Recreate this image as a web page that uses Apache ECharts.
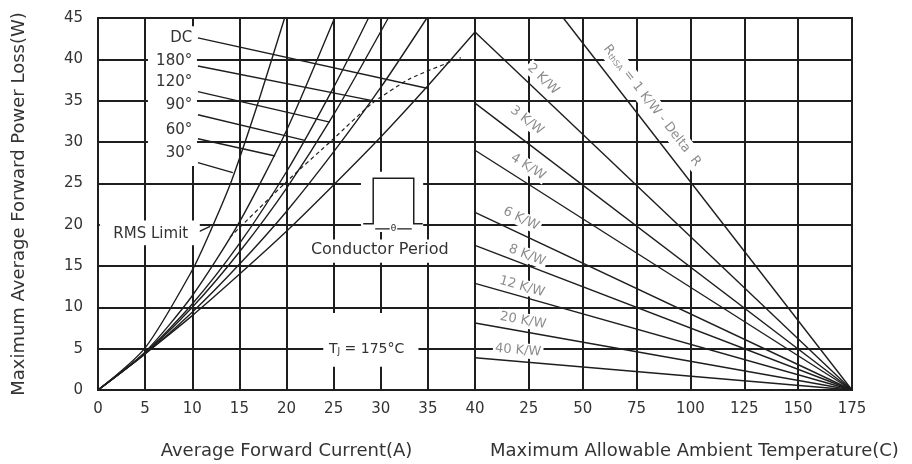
<!DOCTYPE html>
<html>
<head>
<meta charset="utf-8">
<script src="https://cdn.jsdelivr.net/npm/echarts@6/dist/echarts.min.js"></script>
<style>
  html, body { margin: 0; padding: 0; background: #fff; }
  #main { width: 912px; height: 464px; }
</style>
</head>
<body>
<div id="main"></div>
<script>
// tick labels
var ampTicks = [0, 5, 10, 15, 20, 25, 30, 35, 40];
var tempTicks = [0, 25, 50, 75, 100, 125, 150, 175];
var powerTicks = [0, 5, 10, 15, 20, 25, 30, 35, 40, 45];

// left part: power loss vs average current, per conduction angle [A, W]
var curveDC  = [[0, 0], [5, 4.4], [10, 9.0], [15, 14.0], [20, 19.2], [25, 24.8], [30, 30.6], [35, 36.8], [40, 43.3]];
var curve180 = [[0, 0], [5, 4.35], [10, 9.4], [15, 15.2], [20, 21.6], [25, 28.8], [30, 36.6], [34.9, 45]];
var curve120 = [[0, 0], [5, 4.45], [10, 10.0], [15, 16.7], [20, 24.4], [25, 33.3], [30.8, 45]];
var curve90  = [[0, 0], [5, 4.5], [10, 10.4], [15, 17.7], [20, 26.4], [25, 36.6], [28.7, 45]];
var curve60  = [[0, 0], [5, 4.6], [10, 11.4], [15, 20.3], [20, 31.4], [25.1, 45]];
var curve30  = [[0, 0], [5, 5.1], [10, 14.5], [12, 19.4], [14.2, 25.4], [17, 34.8], [19.8, 45]];
var rmsDashed = [[14, 18.5], [20, 25.2], [25, 30.4], [29, 34.6], [33, 37.6], [38.5, 40.2]];

// leader lines from the angle labels to their curves
var leaderDC  = [[10.6, 42.6], [34.9, 36.5]];
var leader180 = [[10.6, 39.2], [29.1, 35.0]];
var leader120 = [[10.6, 36.1], [24.6, 32.4]];
var leader90  = [[10.6, 33.3], [21.95, 30.2]];
var leader60  = [[10.6, 30.4], [18.8, 28.3]];
var leader30  = [[10.6, 27.5], [14.3, 26.3]];
var leaderRms = [[10.6, 19.1], [11.9, 19.8]];

// right part: power loss vs ambient temperature, per R_thSA [degC, W]
var rth1  = [[41, 45], [175, 0]];
var rth2  = [[0, 43.3], [175, 0]];
var rth3  = [[0, 34.7], [175, 0]];
var rth4  = [[0, 29.0], [175, 0]];
var rth6  = [[0, 21.5], [175, 0]];
var rth8  = [[0, 17.5], [175, 0]];
var rth12 = [[0, 12.9], [175, 0]];
var rth20 = [[0, 8.1], [175, 0]];
var rth40 = [[0, 3.9], [175, 0]];

var FONT = 'DejaVu Sans';
var INK = '#1e1e1e';
var TXT = '#333';
var GREY = '#8c8c8c';

var chart = echarts.init(document.getElementById('main'));

function gridLine() {
    return { show: true, lineStyle: { color: INK, width: 2 } };
}

function xAxisFor(gi, ticks, hideFirst) {
    return {
        type: 'value', gridIndex: gi,
        min: ticks[0], max: ticks[ticks.length - 1], interval: ticks[1] - ticks[0],
        axisLine: { show: false }, axisTick: { show: false },
        splitLine: gridLine(),
        axisLabel: {
            margin: 12, fontFamily: FONT, fontSize: 15, color: TXT,
            formatter: function (v) { return (hideFirst && v === ticks[0]) ? '' : String(v); }
        }
    };
}

function yAxisFor(gi, showLabels) {
    var ax = {
        type: 'value', gridIndex: gi,
        min: powerTicks[0], max: powerTicks[powerTicks.length - 1], interval: powerTicks[1] - powerTicks[0],
        axisLine: { show: false }, axisTick: { show: false },
        splitLine: gridLine(),
        axisLabel: { show: showLabels, margin: 15, fontFamily: FONT, fontSize: 15, color: TXT }
    };
    if (showLabels) {
        ax.name = 'Maximum Average Forward Power Loss(W)';
        ax.nameLocation = 'middle';
        ax.nameGap = 70;
        ax.nameTextStyle = { fontFamily: FONT, fontSize: 18, color: TXT };
    }
    return ax;
}

function line(gi, data, opts) {
    opts = opts || {};
    return {
        type: 'line', xAxisIndex: gi, yAxisIndex: gi, data: data,
        showSymbol: false, smooth: opts.smooth || false, silent: true,
        lineStyle: { color: INK, width: opts.width || 1.4, type: opts.dash || 'solid' },
        z: 3
    };
}

var series = [];
[curveDC, curve180, curve120, curve90, curve60, curve30].forEach(function (c) {
    series.push(line(0, c, { smooth: 0.25 }));
});
series.push(line(0, rmsDashed, { smooth: 0.2, dash: [4, 3], width: 1.2 }));
[leaderDC, leader180, leader120, leader90, leader60, leader30, leaderRms].forEach(function (c) {
    series.push(line(0, c));
});
[rth1, rth2, rth3, rth4, rth6, rth8, rth12, rth20, rth40].forEach(function (c) {
    series.push(line(1, c));
});

chart.setOption({
    animation: false,
    backgroundColor: '#fff',
    grid: [
        { left: 98, top: 18, width: 377, height: 372, show: true, borderColor: INK, borderWidth: 2 },
        { left: 475, top: 18, width: 377, height: 372, show: true, borderColor: INK, borderWidth: 2 }
    ],
    xAxis: [xAxisFor(0, ampTicks, false), xAxisFor(1, tempTicks, true)],
    yAxis: [yAxisFor(0, true), yAxisFor(1, false)],
    series: series
});

// annotations, placed from data coordinates
function px(gi, pt) { return chart.convertToPixel({ gridIndex: gi }, pt); }

function whiteBox(gi, a, b) {
    var p = px(gi, a), q = px(gi, b);
    return {
        type: 'rect', z: 40, silent: true,
        shape: { x: Math.min(p[0], q[0]), y: Math.min(p[1], q[1]), width: Math.abs(q[0] - p[0]), height: Math.abs(q[1] - p[1]) },
        style: { fill: '#fff' }
    };
}

function note(gi, at, text, o) {
    o = o || {};
    var p = px(gi, at);
    return {
        type: 'text', z: 50, silent: true,
        x: p[0], y: p[1], rotation: (o.rot || 0) * Math.PI / 180,
        style: {
            text: text, fontFamily: FONT, fontSize: o.size || 15, fill: o.color || TXT,
            align: o.align || 'center', verticalAlign: 'middle',
            backgroundColor: o.bg || null, padding: o.pad || 0,
            rich: o.rich
        }
    };
}

var g = [];
// white areas that break the grid behind the labels
g.push(whiteBox(0, [5.3, 44.0], [10.5, 27.1]));
g.push(whiteBox(0, [0.2, 20.5], [10.8, 17.5]));
g.push(whiteBox(0, [27.9, 26.4], [34.5, 19.1]));
g.push(whiteBox(0, [21.4, 18.2], [38.2, 15.4]));
g.push(whiteBox(0, [23.9, 9.3], [34.0, 2.8]));

var angleNames = ['DC', '180°', '120°', '90°', '60°', '30°'];
var angleY = [42.6, 39.8, 37.2, 34.5, 31.4, 28.6];
angleNames.forEach(function (t, i) {
    g.push(note(0, [10.0, angleY[i]], t, { align: 'right' }));
});
g.push(note(0, [5.6, 18.9], 'RMS Limit', { size: 15 }));
g.push(note(0, [29.9, 16.9], 'Conductor Period', { size: 16 }));
g.push(note(0, [28.5, 4.95], '{a|T}{s|J}{a| = 175°C}', {
    rich: { a: { fontFamily: FONT, fontSize: 14, fill: TXT }, s: { fontFamily: FONT, fontSize: 9, fill: TXT, verticalAlign: 'bottom' } }
}));

// pulse symbol
var pA = px(0, [29.2, 25.6]), pB = px(0, [33.5, 20.1]);
g.push({
    type: 'polyline', z: 50, silent: true,
    shape: { points: [[pA[0] - 10, pB[1]], [pA[0], pB[1]], [pA[0], pA[1]], [pB[0], pA[1]], [pB[0], pB[1]], [pB[0] + 9, pB[1]]] },
    style: { stroke: INK, lineWidth: 1.5, fill: null }
});
g.push({
    type: 'line', z: 50, silent: true,
    shape: { x1: pA[0] + 2, y1: pB[1] + 5, x2: pB[0] - 2, y2: pB[1] + 5 },
    style: { stroke: INK, lineWidth: 1.2 }
});
g.push({
    type: 'text', z: 51, silent: true, x: (pA[0] + pB[0]) / 2, y: pB[1] + 5,
    style: { text: 'θ', fontFamily: FONT, fontSize: 9, fill: INK, align: 'center', verticalAlign: 'middle', backgroundColor: '#fff', padding: [0, 1] }
});

// thermal resistance labels along the right-hand lines
var rthNames = ['2 K/W', '3 K/W', '4 K/W', '6 K/W', '8 K/W', '12 K/W', '20 K/W', '40 K/W'];
var rthAt = [[31.6, 37.6], [24.1, 32.6], [24.6, 27.0], [21.4, 20.7], [24.1, 16.3], [21.8, 12.5], [22.3, 8.4], [20, 4.8]];
var rthRot = [43.6, 37.4, 32.5, 25.3, 21, 15.8, 10, 4.9];
rthNames.forEach(function (t, i) {
    g.push(note(1, rthAt[i], t, { rot: -rthRot[i], size: 13, color: GREY, bg: '#fff', pad: [1, 2] }));
});
g.push(note(1, [82.2, 34.4], '{a|R}{s|thSA}{a| = 1 K/W - Delta  R}', {
    rot: -52, bg: '#fff', pad: [3, 4],
    rich: { a: { fontFamily: FONT, fontSize: 13, fill: GREY }, s: { fontFamily: FONT, fontSize: 8, fill: GREY, verticalAlign: 'bottom' } }
}));

// axis names under the two halves
var leftMid = px(0, [20, 0]), rightMid = px(1, [100, 0]);
g.push({
    type: 'text', z: 50, silent: true, x: leftMid[0], y: 451,
    style: { text: 'Average Forward Current(A)', fontFamily: FONT, fontSize: 18, fill: TXT, align: 'center', verticalAlign: 'middle' }
});
g.push({
    type: 'text', z: 50, silent: true, x: rightMid[0] + 4, y: 451,
    style: { text: 'Maximum Allowable Ambient Temperature(C)', fontFamily: FONT, fontSize: 18, fill: TXT, align: 'center', verticalAlign: 'middle' }
});

chart.setOption({ graphic: g });
</script>
</body>
</html>
